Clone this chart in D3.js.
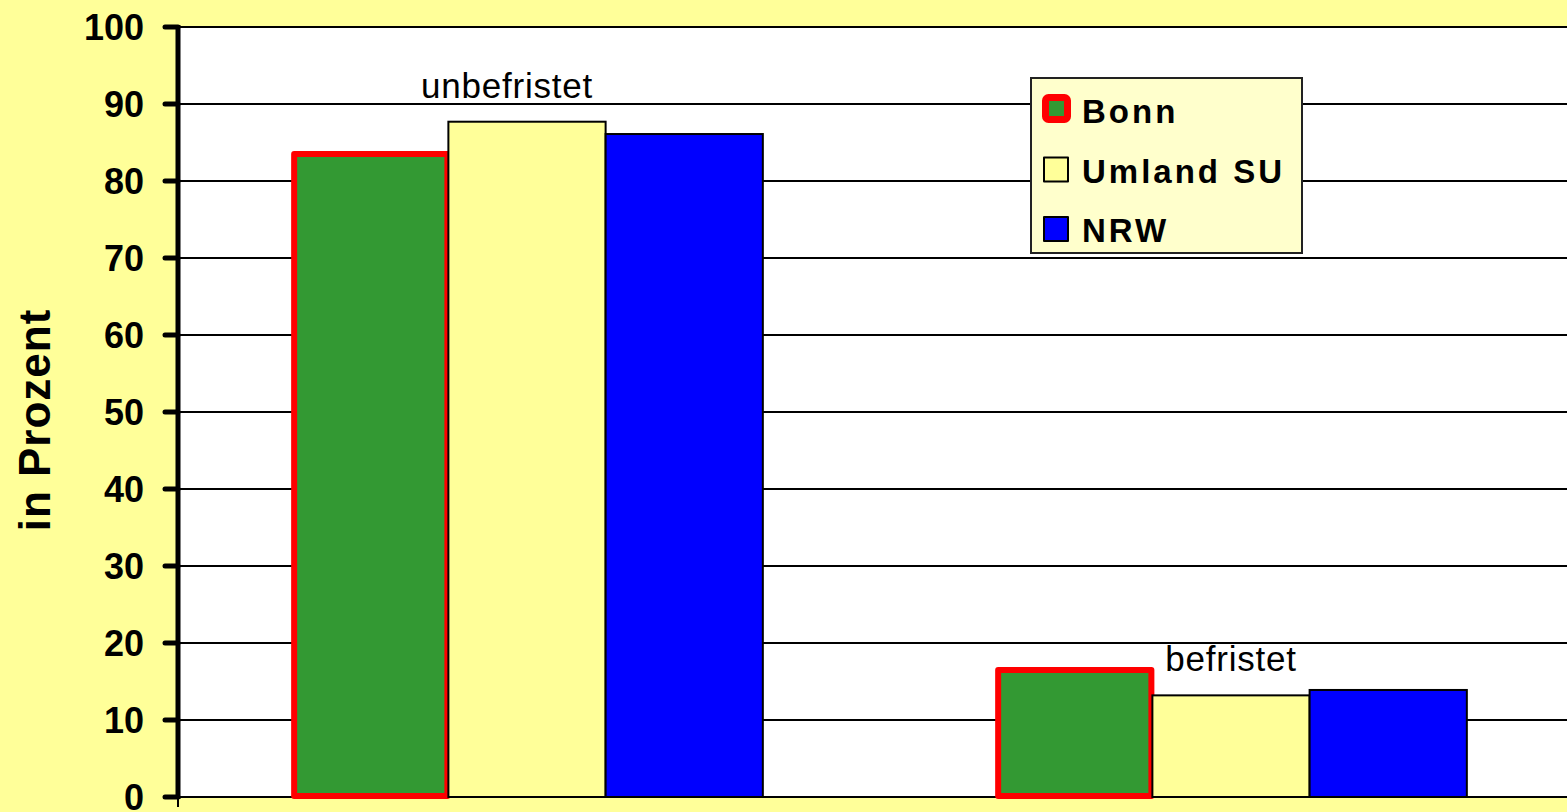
<!DOCTYPE html>
<html>
<head>
<meta charset="utf-8">
<script src="https://cdn.jsdelivr.net/npm/d3@7"></script>
<style>
  body { margin: 0; background: #FFFF99; }
  svg { display: block; }
</style>
</head>
<body>
<div id="chart"></div>
<script>
// data
var categories = ["unbefristet", "befristet"];
var series = ["Bonn", "Umland SU", "NRW"];
var bonn = [83.5, 16.5];
var umland = [87.7, 13.2];
var nrw = [86.1, 13.9];
var yTicks = [0, 10, 20, 30, 40, 50, 60, 70, 80, 90, 100];

var width = 1567, height = 812;
var colors = { "Bonn": "#339933", "Umland SU": "#FFFF99", "NRW": "#0000FF" };

var svg = d3.select("#chart")
  .append("svg")
    .attr("width", width)
    .attr("height", height)
    .style("background", "#FFFF99");

// scales
var y = d3.scaleLinear().domain([0, 100]).range([797, 27]);
var x0 = d3.scaleBand()
  .domain(categories)
  .range([175, 1583])
  .paddingInner(0.33)
  .paddingOuter(0.165);
var x1 = d3.scaleBand().domain(series).range([0, x0.bandwidth()]);

// plot area
svg.append("rect")
  .attr("x", 180).attr("y", y(100))
  .attr("width", width - 180).attr("height", y(0) - y(100))
  .attr("fill", "#FFFFFF");

// gridlines
svg.append("g")
  .selectAll("line")
  .data(yTicks)
  .enter()
  .append("line")
    .attr("x1", 180).attr("x2", width)
    .attr("y1", function(d){ return y(d); })
    .attr("y2", function(d){ return y(d); })
    .attr("stroke", "#000")
    .attr("stroke-width", 2);

// bars
var rows = categories.map(function(c, i){
  return { cat: c, values: [
    { key: "Bonn", value: bonn[i] },
    { key: "Umland SU", value: umland[i] },
    { key: "NRW", value: nrw[i] }
  ]};
});

var groups = svg.append("g")
  .selectAll("g")
  .data(rows)
  .enter()
  .append("g")
    .attr("transform", function(d){ return "translate(" + x0(d.cat) + ",0)"; });

groups.selectAll("rect")
  .data(function(d){ return d.values; })
  .enter()
  .append("rect")
    .attr("x", function(d){ return d.key == "Bonn" ? x1(d.key) + 3 : x1(d.key); })
    .attr("y", function(d){ return y(d.value); })
    .attr("width", function(d){ return d.key == "Bonn" ? x1.bandwidth() - 4 : x1.bandwidth(); })
    .attr("height", function(d){ return y(0) - y(d.value) - (d.key == "Bonn" ? 1 : 0); })
    .attr("fill", function(d){ return colors[d.key]; })
    .attr("stroke", function(d){ return d.key == "Bonn" ? "#FF0000" : "#000"; })
    .attr("stroke-width", function(d){ return d.key == "Bonn" ? 6 : 2; })
    .attr("stroke-linejoin", function(d){ return d.key == "Bonn" ? "round" : "miter"; });

// category labels above the Umland bar
var labelShift = { "unbefristet": -20, "befristet": 0 };
groups.append("text")
  .attr("x", function(d){ return x1("Umland SU") + x1.bandwidth() / 2 + labelShift[d.cat]; })
  .attr("y", function(d){ return y(d.values[1].value) - 24; })
  .attr("text-anchor", "middle")
  .style("font-family", "Arial, 'Liberation Sans', sans-serif")
  .style("font-size", "35px")
  .style("letter-spacing", "0.8px")
  .attr("fill", "#000")
  .text(function(d){ return d.cat; });

// y axis
var axis = svg.append("g");
axis.append("line")
  .attr("x1", 178).attr("x2", 178)
  .attr("y1", y(100) - 2).attr("y2", y(0) + 2)
  .attr("stroke", "#000").attr("stroke-width", 5);
axis.append("line")
  .attr("x1", 178).attr("x2", 178)
  .attr("y1", y(0)).attr("y2", 807)
  .attr("stroke", "#000").attr("stroke-width", 2);
axis.selectAll(".tick")
  .data(yTicks)
  .enter()
  .append("line")
    .attr("class", "tick")
    .attr("x1", 165).attr("x2", 178)
    .attr("y1", function(d){ return y(d); })
    .attr("y2", function(d){ return y(d); })
    .attr("stroke", "#000")
    .attr("stroke-width", 5)
    .attr("stroke-linecap", "round");
axis.selectAll(".lbl")
  .data(yTicks)
  .enter()
  .append("text")
    .attr("class", "lbl")
    .attr("x", 144)
    .attr("y", function(d){ return y(d); })
    .attr("dy", "0.36em")
    .attr("text-anchor", "end")
    .style("font-family", "Arial, 'Liberation Sans', sans-serif")
    .style("font-weight", "bold")
    .style("font-size", "36px")
    .text(function(d){ return d; });

// y axis title
svg.append("text")
  .attr("transform", "translate(50,420) rotate(-90)")
  .attr("text-anchor", "middle")
  .style("font-family", "Arial, 'Liberation Sans', sans-serif")
  .style("font-weight", "bold")
  .style("font-size", "44px")
  .style("letter-spacing", "1px")
  .text("in Prozent");

// legend
var legend = svg.append("g").attr("transform", "translate(1031,78)");
legend.append("rect")
  .attr("width", 271).attr("height", 175)
  .attr("fill", "#FFFFCC")
  .attr("stroke", "#222")
  .attr("stroke-width", 2);

var items = legend.selectAll(".item")
  .data(series)
  .enter()
  .append("g")
    .attr("class", "item")
    .attr("transform", function(d, i){ return "translate(0," + (i * 59.5) + ")"; });

items.append("rect")
  .attr("x", function(d){ return d == "Bonn" ? 14.5 : 13; })
  .attr("y", function(d){ return d == "Bonn" ? 19.5 : 20; })
  .attr("width", function(d){ return d == "Bonn" ? 22 : 24; })
  .attr("height", function(d){ return d == "Bonn" ? 22 : 24; })
  .attr("rx", function(d){ return d == "Bonn" ? 3 : 0; })
  .attr("fill", function(d){ return colors[d]; })
  .attr("stroke", function(d){ return d == "Bonn" ? "#FF0000" : "#000"; })
  .attr("stroke-width", function(d){ return d == "Bonn" ? 7 : 2; })
  .attr("stroke-linejoin", "round");

items.append("text")
  .attr("x", 51)
  .attr("y", 45)
  .style("font-family", "Arial, 'Liberation Sans', sans-serif")
  .style("font-weight", "bold")
  .style("font-size", "33px")
  .style("letter-spacing", "3px")
  .text(function(d){ return d; });
</script>
</body>
</html>
